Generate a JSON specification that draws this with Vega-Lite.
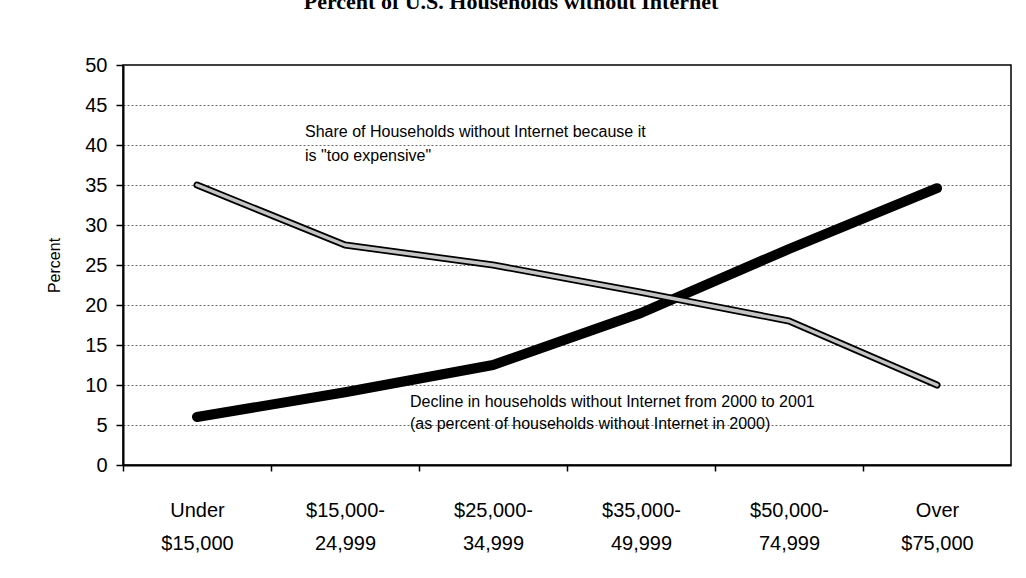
{
  "$schema": "https://vega.github.io/schema/vega-lite/v6.json",
  "width": 888,
  "height": 400,
  "autosize": "none",
  "padding": {"left": 123, "top": 65, "right": 15, "bottom": 113},
  "background": "white",
  "title": {
    "text": "Percent of U.S. Households without Internet",
    "font": "Liberation Serif",
    "fontSize": 22,
    "fontWeight": "bold",
    "color": "black",
    "anchor": "middle",
    "dx": -56,
    "offset": 41
  },
  "datasets": {
    "rows": [
      {"income": "Under $15,000", "series": "Decline", "percent": 6.0},
      {"income": "$15,000-24,999", "series": "Decline", "percent": 9.1},
      {"income": "$25,000-34,999", "series": "Decline", "percent": 12.5},
      {"income": "$35,000-49,999", "series": "Decline", "percent": 19.0},
      {"income": "$50,000-74,999", "series": "Decline", "percent": 27.0},
      {"income": "Over $75,000", "series": "Decline", "percent": 34.6},
      {"income": "Under $15,000", "series": "Too expensive", "percent": 35.0},
      {"income": "$15,000-24,999", "series": "Too expensive", "percent": 27.5},
      {"income": "$25,000-34,999", "series": "Too expensive", "percent": 25.0},
      {"income": "$35,000-49,999", "series": "Too expensive", "percent": 21.6},
      {"income": "$50,000-74,999", "series": "Too expensive", "percent": 18.0},
      {"income": "Over $75,000", "series": "Too expensive", "percent": 10.0}
    ],
    "noteA": [
      {"income": "$15,000-24,999", "percent": 41.6, "text": "Share of Households without Internet because it"},
      {"income": "$15,000-24,999", "percent": 38.6, "text": "is \"too expensive\""}
    ],
    "noteB": [
      {"income": "$25,000-34,999", "percent": 7.9, "text": "Decline in households without Internet from 2000 to 2001"},
      {"income": "$25,000-34,999", "percent": 5.1, "text": "(as percent of households without Internet in 2000)"}
    ]
  },
  "encoding": {
    "x": {
      "field": "income",
      "type": "nominal",
      "sort": ["Under $15,000", "$15,000-24,999", "$25,000-34,999", "$35,000-49,999", "$50,000-74,999", "Over $75,000"],
      "scale": {"type": "band", "paddingInner": 0, "paddingOuter": 0},
      "axis": {
        "title": null,
        "labelAngle": 0,
        "labelFont": "Liberation Sans",
        "labelFontSize": 20,
        "labelColor": "black",
        "labelPadding": 29,
        "labelLineHeight": 33,
        "labelOffset": 74,
        "labelExpr": "indexof(datum.value,'-') > 0 ? [slice(datum.value, 0, indexof(datum.value,'-') + 1), slice(datum.value, indexof(datum.value,'-') + 1)] : split(datum.value, ' ')",
        "domainColor": "black",
        "domainWidth": 2,
        "tickColor": "black",
        "tickSize": 6,
        "tickWidth": 1.5,
        "tickOffset": -74,
        "grid": false
      }
    },
    "y": {
      "field": "percent",
      "type": "quantitative",
      "scale": {"domain": [0, 50], "nice": false},
      "axis": {
        "title": "Percent",
        "titleFont": "Liberation Sans",
        "titleFontSize": 16,
        "titleFontWeight": "normal",
        "titleColor": "black",
        "titlePadding": 22,
        "values": [0, 5, 10, 15, 20, 25, 30, 35, 40, 45, 50],
        "labelFont": "Liberation Sans",
        "labelFontSize": 20,
        "labelColor": "black",
        "labelPadding": 9,
        "domainColor": "black",
        "domainWidth": 2,
        "tickColor": "black",
        "tickSize": 7,
        "tickWidth": 1.5,
        "grid": true,
        "gridColor": "#444444",
        "gridDash": [2, 2],
        "gridWidth": 0.8
      }
    }
  },
  "layer": [
    {
      "data": {"name": "rows"},
      "transform": [{"filter": "datum.series == 'Decline'"}],
      "mark": {"type": "line", "color": "black", "strokeWidth": 10, "strokeCap": "round", "strokeJoin": "round"}
    },
    {
      "data": {"name": "rows"},
      "transform": [{"filter": "datum.series == 'Too expensive'"}],
      "mark": {"type": "line", "color": "black", "strokeWidth": 7, "strokeCap": "round", "strokeJoin": "round"}
    },
    {
      "data": {"name": "rows"},
      "transform": [{"filter": "datum.series == 'Too expensive'"}],
      "mark": {"type": "line", "color": "#c4c4c4", "strokeWidth": 3.5, "strokeCap": "round", "strokeJoin": "round"}
    },
    {
      "data": {"name": "noteA"},
      "mark": {"type": "text", "align": "left", "baseline": "middle", "dx": -40, "font": "Liberation Sans", "fontSize": 16, "color": "black"},
      "encoding": {"text": {"field": "text"}}
    },
    {
      "data": {"name": "noteB"},
      "mark": {"type": "text", "align": "left", "baseline": "middle", "dx": -83, "font": "Liberation Sans", "fontSize": 16, "color": "black"},
      "encoding": {"text": {"field": "text"}}
    }
  ],
  "config": {
    "view": {"stroke": "black", "strokeWidth": 1.5}
  }
}
